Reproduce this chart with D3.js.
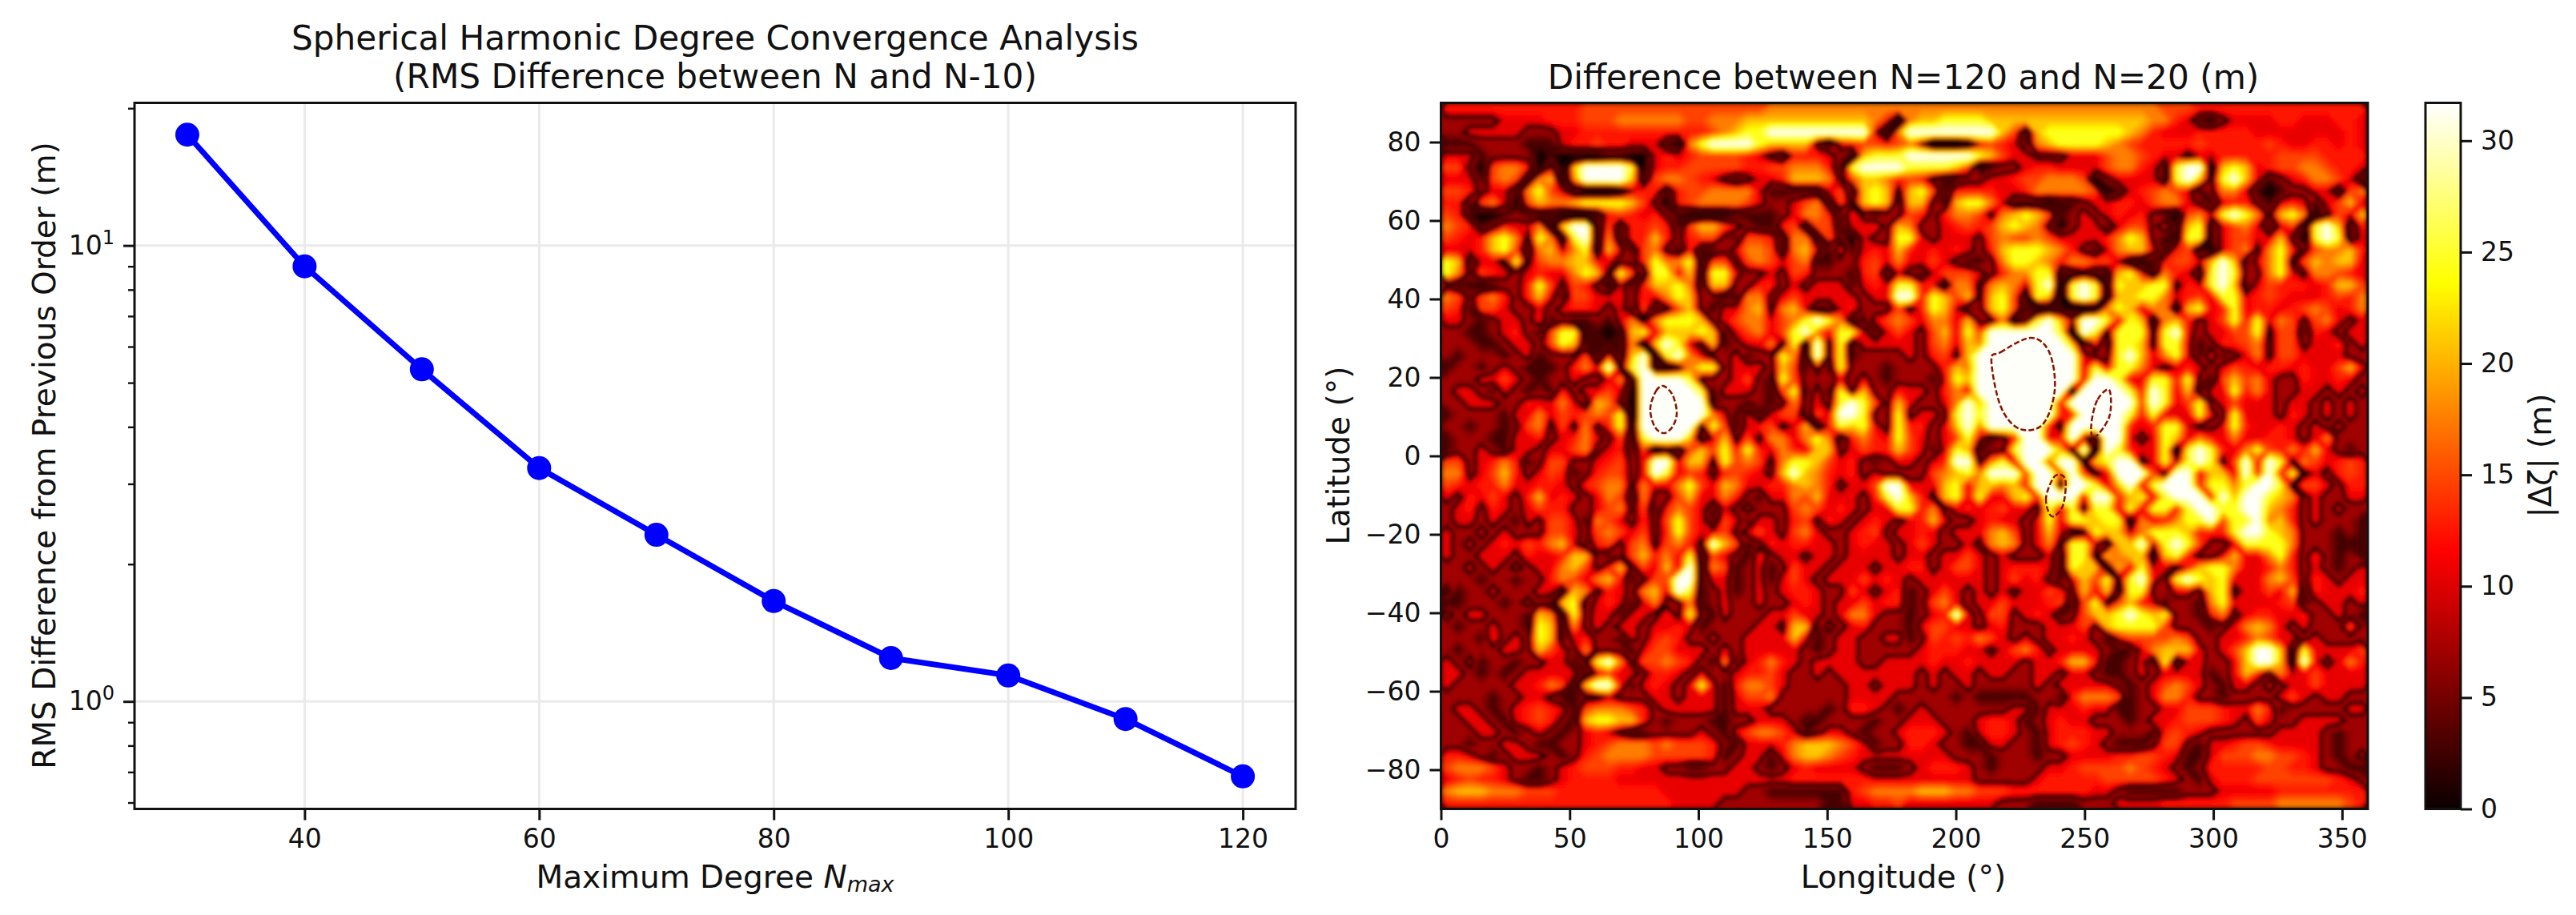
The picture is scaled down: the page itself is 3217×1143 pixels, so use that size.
<!DOCTYPE html>
<html>
<head>
<meta charset="utf-8">
<script src="https://d3js.org/d3.v7.min.js"></script>
<style>
  body { margin: 0; background: #fff; }
  text { font-family: "DejaVu Sans", sans-serif; fill: #111; }
  .domain { display: none; }
</style>
</head>
<body>
<div id="chart"></div>
<script>
// Left panel: convergence values
const degrees = [30, 40, 50, 60, 70, 80, 90, 100, 110, 120];
const rmsDiff = [17.5, 9.0, 5.35, 3.25, 2.32, 1.66, 1.245, 1.14, 0.915, 0.685];
const degreeTicks = [40, 60, 80, 100, 120];
const rmsMajorTicks = [1, 10];
const rmsMinorTicks = [0.6, 0.7, 0.8, 0.9, 2, 3, 4, 5, 6, 7, 8, 9, 20];

// Right panel: ticks and the |dz| map.
// One digit per cell (4.5 deg wide, 3 deg high), top row is lat 90, digit indexes heatLevels.
const lonTicks = [0, 50, 100, 150, 200, 250, 300, 350];
const latTicks = [-80, -60, -40, -20, 0, 20, 40, 60, 80];
const cbarTicks = [0, 5, 10, 15, 20, 25, 30];
const heatLevels = [0, 3, 7, 11, 13, 15, 18, 21, 25, 32];
const heatMax = 31.7;
const nodeLevel = 9; // the black web between the blobs follows this level
const heatRows = [
"4444444444 4455555555 5555555566 6666666666 6666666666 6666666666 6655544444 4444444444",
"2222233334 4455566666 6556667777 7777777640 6778888777 7777777777 7664310233 3344333443",
"2233333222 3344444444 4445678899 9999999306 9999999975 1788888887 6433344444 3333333343",
"1112222111 3445443331 0689999877 7720345545 6300014543 1678888765 4444454444 4543344343",
"3331222201 0000110034 3455554321 4443207888 9999998753 3222333566 5433233444 4455554444",
"5520566403 0799998034 4555554455 6664189999 8888750122 3443333566 4318991787 3455665443",
"3331565167 0699997156 6543212334 7776257764 5421122334 5566650233 3318972897 3123466531",
"5542331685 3100013441 4556666311 1113517872 7851444433 4666665013 4565312663 1012233156",
"4415630576 6788887520 4566665322 3561527871 7721788631 1101123344 3566321344 2134313573",
"5410012111 0001454342 1000011112 3664142122 5424665267 8751232343 4210563898 6278602537",
"6541243361 7991514454 1577532114 5155133427 6223454578 7620233135 5241781356 3135189714",
"5434786286 1891614474 2455215541 6615203228 8323332565 5653333468 7211881355 3372089813",
"3334785167 3681731562 1411236651 6731413437 4343432478 8876421367 7314510356 2684256674",
"8713328256 6774322486 6815525653 5611224536 3353211268 8764665531 0145537971 3682576773",
"8625432343 3687285188 3718832232 5422214513 2135553246 6881121178 4164318982 2683266543",
"2110122485 2542031477 8617722442 3233313438 8441662676 3890898187 7882438971 3544434775",
"6525642473 1553332436 8722116623 5333332339 9487572785 1870898177 8863453883 4543334546",
"5415532232 3443231512 5721336726 7311342225 2487312785 1011001687 3661783483 4434565346",
"3321233241 2112136268 8872356635 6898611356 5366372261 2897399838 7167423584 8365256323",
"2211234215 8811017837 7787135635 8963883135 3257385999 9998198288 8289323355 8255143233",
"2221123325 8711116179 8327123362 8192813333 3256376999 9999714188 7288312445 6255233423",
"2122212312 2251417918 9632231228 6192812222 3245279999 9999932289 7368314123 6255333322",
"1221232111 2463928911 2688233327 5131822212 2224769999 9999938388 6323432354 3443433573",
"2223353212 2322361999 9822235218 5222323212 2213879999 9999939983 3884821575 6322433432",
"2332132121 4233530999 9981333215 8131827224 3324639999 9999199998 4983713384 6322332323",
"2233322433 6317620999 9991221212 6232898527 3223697999 9994999999 5983582353 3323323232",
"1222213363 5456580999 9996313135 5153998228 2332898999 9994499998 4833383283 3324323232",
"2212212562 5262481999 9928513452 3714878328 4423796999 9942999994 3488322384 3343232322",
"1222113342 3463251899 9713725266 3686146438 5323583124 9934931993 2387364363 3443236222",
"1223213323 3562341512 1575848436 4377235447 5313871228 9997291984 3381898436 8546473212",
"5523464125 5223452399 3772856526 8875342123 3234992683 9959927899 2383898259 3982653454",
"6623574235 4124552398 3542454327 9764342322 2256786999 5995952399 9529937739 4948232454",
"5434463344 3245662633 6853763344 6764233599 3337837767 4992998379 3899948868 9982553244",
"3243532473 4323651622 5733642133 6573332489 7427838337 8499939947 8389994979 9876232233",
"2342432354 4223562514 6531323222 5653432338 8462343453 3283828838 3884899889 9764232322",
"2332321325 5316532425 8531531332 4524323432 3473223433 2383887881 6346889588 9674232221",
"3223232225 5325653524 8533523532 5632234523 3432333675 2373128773 6888744489 9876222121",
"3232343546 7314525625 6429751243 4433234332 3532232676 2362883177 9389852238 8886222111",
"3223332433 4772125746 3815321423 3233233332 3323353232 2231882767 7178422373 3684242121",
"2232323233 6752472537 3916512312 5332333233 4423553234 4431877173 8332478863 3464232123",
"2221221224 6536741255 9913312313 5323335343 2333333235 3421375828 9328987833 3675243233",
"3122322233 1762432673 9812312323 4432253234 1235323232 3354273718 8223327823 3537143334",
"1122212321 7813431362 2612322322 3432335344 1256323353 3345158257 4312216833 3345123323",
"3233222176 1823313324 2821322233 5332366322 1234932552 3431257789 8782214623 4433422321",
"2122322187 1623233233 4312222332 7713234222 1355332342 2233352788 8852221236 7632322252",
"2221423287 1342213245 4223223333 7312332233 1254546532 3233432135 5556522334 6533232222",
"2122233275 3262221355 3332323333 3212332222 2344433235 6423333211 3677732357 9971833335",
"3231221223 3128962556 5421613464 3233332233 3343343333 2334774112 3181332237 9971932364",
"3321212333 3313533244 3232234453 2232333333 3232332332 2332332112 3233331237 4263353333",
"3222223346 5179941343 2383146653 2222233233 3232232222 2323333321 2356532133 2323353333",
"2222122332 1122322233 2333135562 2222233332 2222121111 1221466651 2366422122 2235323322",
"2332123454 3156665423 3333133322 2221244321 2322222223 3133343311 2233555433 6412222233",
"2233213454 2178877421 2221122333 2112222122 3332223443 1234332221 2334555432 5322333322",
"2223321232 1234321122 2232135665 3123321223 4443213443 2134443322 2145432222 2233332122",
"2212233211 2234566656 5554213334 6777653122 4432211332 2134543211 1255213345 5433332122",
"4432123332 1245666655 5554123313 6776543333 3333222122 2122333344 5543113555 6655432123",
"5666532212 3455544332 2112233212 3433332111 2344432122 2233455556 5432124444 4554432211",
"3454432112 3444433333 3333333333 4444444333 3333332222 2344444555 5543213444 5555555432",
"6777666555 4444444443 3333332211 1111145666 6777665554 4444443321 1111222333 3344444444",
"4444444444 4444444444 3333222222 2221133445 3333333322 2111122233 3344444455 5566666654"
];

// thin dotted rings inside the saturated blobs, [lon, lat]
const thinRings = [
    [[81.3, 12], [83.5, 16.5], [86.5, 17.8], [90, 15.5], [91.6, 11], [90, 7.5], [86.5, 5.8], [83, 7.5]],
    [[213.8, 24.4], [217.3, 26.4], [229.1, 30.1], [236.3, 26.4], [238.4, 16.8], [233.7, 8], [224.4, 7], [217.3, 12.8]],
    [[259.6, 16.8], [254.9, 14.2], [252.6, 8], [253.7, 4.6], [259.6, 10]],
    [[238.4, -5.2], [235, -10.8], [237.2, -15.4], [241.5, -12.8], [242.5, -6]]
];

const svg = d3.select("#chart").append("svg")
    .attr("width", 3217)
    .attr("height", 1143);

const tickFont = 33, labelFont = 39, titleFont = 42.2;
const plotTop = 128.5, plotBottom = 1010.5;

// ---- left panel ----
const x = d3.scaleLinear().domain([25.5, 124.5]).range([168, 1618]);
const y = d3.scaleLog().domain([20.55, 0.581]).range([plotTop, plotBottom]);

const leftPanel = svg.append("g");

// grid
leftPanel.selectAll(".vgrid").data(degreeTicks).enter().append("line")
    .attr("x1", d => x(d)).attr("x2", d => x(d))
    .attr("y1", plotTop).attr("y2", plotBottom)
    .attr("stroke", "#eaeaea").attr("stroke-width", 3);
leftPanel.selectAll(".hgrid").data(rmsMajorTicks).enter().append("line")
    .attr("x1", x.range()[0]).attr("x2", x.range()[1])
    .attr("y1", d => y(d)).attr("y2", d => y(d))
    .attr("stroke", "#eaeaea").attr("stroke-width", 3);

leftPanel.append("path")
    .datum(degrees.map((d, i) => [d, rmsDiff[i]]))
    .attr("fill", "none")
    .attr("stroke", "#0000ff")
    .attr("stroke-width", 7)
    .attr("stroke-linejoin", "round")
    .attr("d", d3.line().x(d => x(d[0])).y(d => y(d[1])));

leftPanel.selectAll(".dot").data(rmsDiff).enter().append("circle")
    .attr("cx", (d, i) => x(degrees[i]))
    .attr("cy", d => y(d))
    .attr("r", 15)
    .attr("fill", "#0000ff");

function styleAxis(g, width) {
    g.selectAll("line").attr("stroke", "#111").attr("stroke-width", width);
    g.selectAll("text").style("font-size", tickFont + "px");
}

leftPanel.append("g")
    .attr("transform", `translate(0,${plotBottom})`)
    .call(d3.axisBottom(x).tickValues(degreeTicks).tickSize(14).tickPadding(11))
    .call(styleAxis, 3);

leftPanel.append("g")
    .attr("transform", `translate(${x.range()[0]},0)`)
    .call(d3.axisLeft(y).tickValues(rmsMinorTicks).tickSize(8).tickFormat(""))
    .call(styleAxis, 2.4);

const yMajor = leftPanel.append("g")
    .attr("transform", `translate(${x.range()[0]},0)`)
    .call(d3.axisLeft(y).tickValues(rmsMajorTicks).tickSize(14).tickPadding(11).tickFormat(""))
    .call(styleAxis, 3);

yMajor.selectAll(".tick").append("text")
    .attr("x", -25).attr("dy", "0.32em")
    .attr("text-anchor", "end")
    .style("font-size", tickFont + "px")
    .attr("fill", "#111")
    .each(function(d) {
        const t = d3.select(this);
        t.append("tspan").text("10");
        t.append("tspan").attr("dy", "-0.55em").style("font-size", "24px").text(Math.log10(d));
    });

leftPanel.append("rect")
    .attr("x", x.range()[0]).attr("y", plotTop)
    .attr("width", x.range()[1] - x.range()[0]).attr("height", plotBottom - plotTop)
    .attr("fill", "none").attr("stroke", "#111").attr("stroke-width", 3);

leftPanel.append("text")
    .attr("x", 893).attr("y", 62)
    .attr("text-anchor", "middle").style("font-size", titleFont + "px")
    .text("Spherical Harmonic Degree Convergence Analysis");
leftPanel.append("text")
    .attr("x", 893).attr("y", 110)
    .attr("text-anchor", "middle").style("font-size", titleFont + "px")
    .text("(RMS Difference between N and N-10)");

const xTitle = leftPanel.append("text")
    .attr("x", 893).attr("y", 1109)
    .attr("text-anchor", "middle").style("font-size", labelFont + "px");
xTitle.append("tspan").text("Maximum Degree ");
xTitle.append("tspan").style("font-style", "italic").text("N");
xTitle.append("tspan").attr("dy", "0.2em").style("font-style", "italic").style("font-size", "27px").text("max");

leftPanel.append("text")
    .attr("transform", `translate(69,569) rotate(-90)`)
    .attr("text-anchor", "middle").style("font-size", labelFont + "px")
    .text("RMS Difference from Previous Order (m)");

// ---- right panel ----
const cols = 80, rows = heatRows.length;
const heatValues = heatRows
    .flatMap(r => Array.from(r.replace(/ /g, "").padEnd(cols, "3").slice(0, cols)))
    .map(c => heatLevels[+c]);

const lon = d3.scaleLinear().domain([0, 360]).range([1799.5, 2957]);
const lat = d3.scaleLinear().domain([90, -90]).range([plotTop, plotBottom]);
const color = d3.scaleLinear()
    .domain([0, 0.365 * heatMax, 0.746 * heatMax, heatMax])
    .range(["#0b0000", "#ff0000", "#ffff00", "#ffffff"])
    .clamp(true);

// contour coords are grid units, map them through the lon / lat scales
const gridPath = d3.geoPath(d3.geoTransform({
    point(gx, gy) {
        this.stream.point(lon(gx * 360 / cols), lat(90 - gy * 180 / rows));
    }
}));

const contourGen = d3.contours().size([cols, rows]);
const contours = contourGen.thresholds(d3.range(0, heatMax, 0.7))(heatValues);
const nodeLines = contourGen.thresholds([nodeLevel])(heatValues);

const defs = svg.append("defs");
defs.append("filter").attr("id", "soften")
    .attr("x", "-2%").attr("y", "-2%").attr("width", "104%").attr("height", "104%")
    .append("feGaussianBlur").attr("stdDeviation", 2.5);
defs.append("clipPath").attr("id", "heatClip").append("rect")
    .attr("x", lon.range()[0]).attr("y", plotTop)
    .attr("width", lon.range()[1] - lon.range()[0]).attr("height", plotBottom - plotTop);

const rightPanel = svg.append("g");

const heatClip = rightPanel.append("g").attr("clip-path", "url(#heatClip)");
heatClip.append("rect")
    .attr("x", lon.range()[0]).attr("y", plotTop)
    .attr("width", lon.range()[1] - lon.range()[0]).attr("height", plotBottom - plotTop)
    .attr("fill", "#7a0000");

const heatLayer = heatClip.append("g").attr("filter", "url(#soften)");
heatLayer.selectAll(".band").data(contours).enter().append("path")
    .attr("d", gridPath)
    .attr("fill", d => color(d.value));
heatLayer.selectAll(".node").data(nodeLines).enter().append("path")
    .attr("d", gridPath)
    .attr("fill", "none")
    .attr("stroke", "#0b0000")
    .attr("stroke-width", 5);

heatClip.selectAll(".ring").data(thinRings).enter().append("path")
    .attr("fill", "none")
    .attr("stroke", "#8a1200")
    .attr("stroke-width", 2.5)
    .attr("stroke-dasharray", "7 3")
    .attr("d", d3.line().curve(d3.curveCardinalClosed).x(d => lon(d[0])).y(d => lat(d[1])));

rightPanel.append("g")
    .attr("transform", `translate(0,${plotBottom})`)
    .call(d3.axisBottom(lon).tickValues(lonTicks).tickSize(14).tickPadding(11))
    .call(styleAxis, 3);

rightPanel.append("g")
    .attr("transform", `translate(${lon.range()[0]},0)`)
    .call(d3.axisLeft(lat).tickValues(latTicks).tickSize(14).tickPadding(11).tickFormat(d => d < 0 ? "\u2212" + (-d) : d))
    .call(styleAxis, 3);

rightPanel.append("rect")
    .attr("x", lon.range()[0]).attr("y", plotTop)
    .attr("width", lon.range()[1] - lon.range()[0]).attr("height", plotBottom - plotTop)
    .attr("fill", "none").attr("stroke", "#111").attr("stroke-width", 3);

rightPanel.append("text")
    .attr("x", 2377).attr("y", 111)
    .attr("text-anchor", "middle").style("font-size", titleFont + "px")
    .text("Difference between N=120 and N=20 (m)");
rightPanel.append("text")
    .attr("x", 2377).attr("y", 1109)
    .attr("text-anchor", "middle").style("font-size", labelFont + "px")
    .text("Longitude (\u00b0)");
rightPanel.append("text")
    .attr("transform", `translate(1685,569) rotate(-90)`)
    .attr("text-anchor", "middle").style("font-size", labelFont + "px")
    .text("Latitude (\u00b0)");

// ---- colorbar ----
const cbarLeft = 3029, cbarRight = 3073;
const cbar = d3.scaleLinear().domain([0, heatMax]).range([plotBottom, plotTop]);

const grad = defs.append("linearGradient")
    .attr("id", "hot").attr("x1", 0).attr("x2", 0).attr("y1", 1).attr("y2", 0);
grad.selectAll("stop").data(color.domain()).enter().append("stop")
    .attr("offset", d => d / heatMax)
    .attr("stop-color", d => color(d));

svg.append("rect")
    .attr("x", cbarLeft).attr("y", plotTop)
    .attr("width", cbarRight - cbarLeft).attr("height", plotBottom - plotTop)
    .attr("fill", "url(#hot)").attr("stroke", "#111").attr("stroke-width", 3);

svg.append("g")
    .attr("transform", `translate(${cbarRight},0)`)
    .call(d3.axisRight(cbar).tickValues(cbarTicks).tickSize(14).tickPadding(11))
    .call(styleAxis, 3);

svg.append("text")
    .attr("transform", `translate(3186,569) rotate(-90)`)
    .attr("text-anchor", "middle").style("font-size", labelFont + "px")
    .text("|\u0394\u03b6| (m)");
</script>
</body>
</html>
